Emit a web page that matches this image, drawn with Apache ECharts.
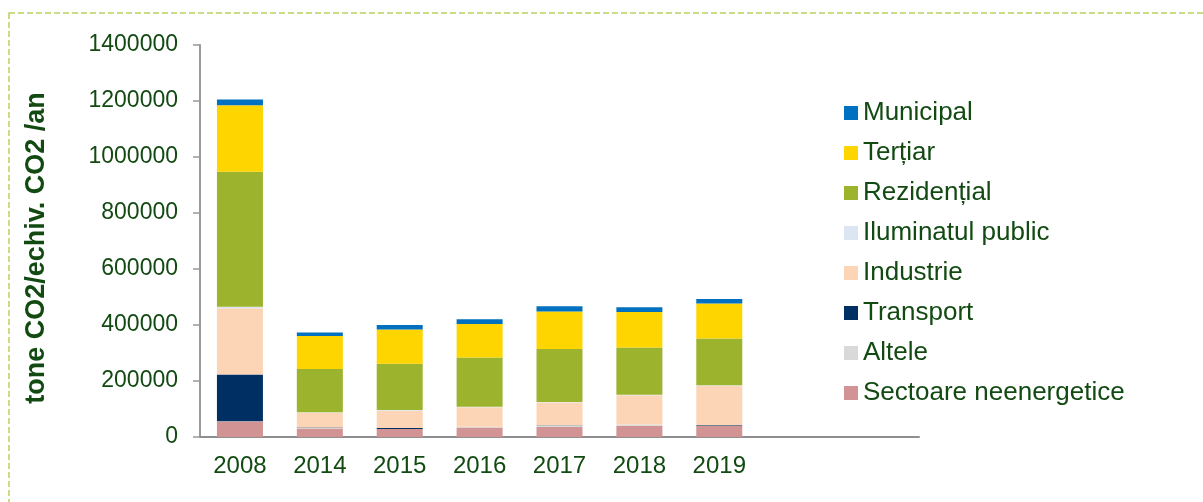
<!DOCTYPE html>
<html>
<head>
<meta charset="utf-8">
<style>
* { margin: 0; padding: 0; }
#chart-container { width: 1203px; height: 502px; background: #fff; }
</style>
<script src="https://cdn.jsdelivr.net/npm/echarts@6/dist/echarts.min.js"></script>
</head>
<body>
<div id="chart-container"></div>
<script>
// ani (ultimele 2 coloane goale in original)
const years = ['2008', '2014', '2015', '2016', '2017', '2018', '2019', '', '']

// valori, tone CO2/an
const sectoare = [55000, 30000, 28500, 33500, 36000, 40500, 39000]
const altele = [1000, 2000, 0, 3000, 5000, 4500, 0]
const transport = [167000, 1500, 3500, 0, 1000, 0, 3000]
const industrie = [237000, 53000, 62000, 69500, 81000, 104000, 141000]
const iluminat = [5000, 2000, 2000, 2000, 2000, 2000, 2000]
const rezidential = [482000, 154000, 166000, 175500, 189000, 169000, 167000]
const tertiar = [238000, 118000, 121500, 120000, 134000, 126000, 125000]
const municipal = [20000, 13000, 16500, 17000, 19000, 17000, 16000]

const legendOrder = ['Municipal', 'Terțiar', 'Rezidențial', 'Iluminatul public', 'Industrie', 'Transport', 'Altele', 'Sectoare neenergetice']

const textColor = '#124a12'
const font = 'Liberation Sans, Arial, sans-serif'

const chartDom = document.getElementById('chart-container')
const myChart = echarts.init(chartDom, null, { renderer: 'canvas' })

const bar = (name, data, color) => ({
  name: name,
  type: 'bar',
  stack: 'total',
  barWidth: 46,
  data: data,
  itemStyle: { color: color },
  emphasis: { disabled: true }
})

const option = {
  animation: false,
  backgroundColor: '#fff',
  graphic: [
    {
      type: 'rect',
      z: -1,
      shape: { x: 9, y: 13, width: 1400, height: 700 },
      style: { fill: 'none', stroke: '#b8d45c', lineWidth: 1.5, lineDash: [6, 3] }
    }
  ],
  grid: {
    left: 200,
    right: 284,
    top: 45,
    bottom: 65,
    containLabel: false,
    outerBoundsMode: 'none'
  },
  legend: {
    orient: 'vertical',
    left: 839,
    top: 95,
    icon: 'rect',
    itemWidth: 14,
    itemHeight: 14,
    itemGap: 14,
    selectedMode: false,
    data: legendOrder,
    textStyle: { color: textColor, fontSize: 26, lineHeight: 26, fontFamily: font }
  },
  xAxis: {
    type: 'category',
    data: years,
    axisLine: { lineStyle: { color: '#8f8f8f', width: 2 } },
    axisTick: { show: false },
    axisLabel: { color: textColor, fontSize: 24, fontFamily: font, margin: 17, interval: 0 },
    splitLine: { show: false }
  },
  yAxis: {
    type: 'value',
    min: 0,
    max: 1400000,
    interval: 200000,
    name: 'tone CO2/echiv. CO2 /an',
    nameLocation: 'middle',
    nameRotate: 90,
    nameGap: 150,
    nameTextStyle: { color: textColor, fontSize: 27, fontWeight: 'bold', fontFamily: font, padding: [0, 14, 0, 0] },
    axisLine: { show: true, lineStyle: { color: '#999999', width: 2 } },
    axisTick: { show: true, inside: false, length: 7, lineStyle: { color: '#999999', width: 1.5 } },
    axisLabel: { color: textColor, fontSize: 23, fontFamily: font, margin: 22, formatter: (v) => String(v) },
    splitLine: { show: false }
  },
  series: [
    bar('Sectoare neenergetice', sectoare, '#d19393'),
    bar('Altele', altele, '#d9d9d9'),
    bar('Transport', transport, '#003063'),
    bar('Industrie', industrie, '#fbd5b5'),
    bar('Iluminatul public', iluminat, '#dce6f2'),
    bar('Rezidențial', rezidential, '#9bb32d'),
    bar('Terțiar', tertiar, '#ffd500'),
    bar('Municipal', municipal, '#0070c0')
  ]
}

myChart.setOption(option)
</script>
</body>
</html>
